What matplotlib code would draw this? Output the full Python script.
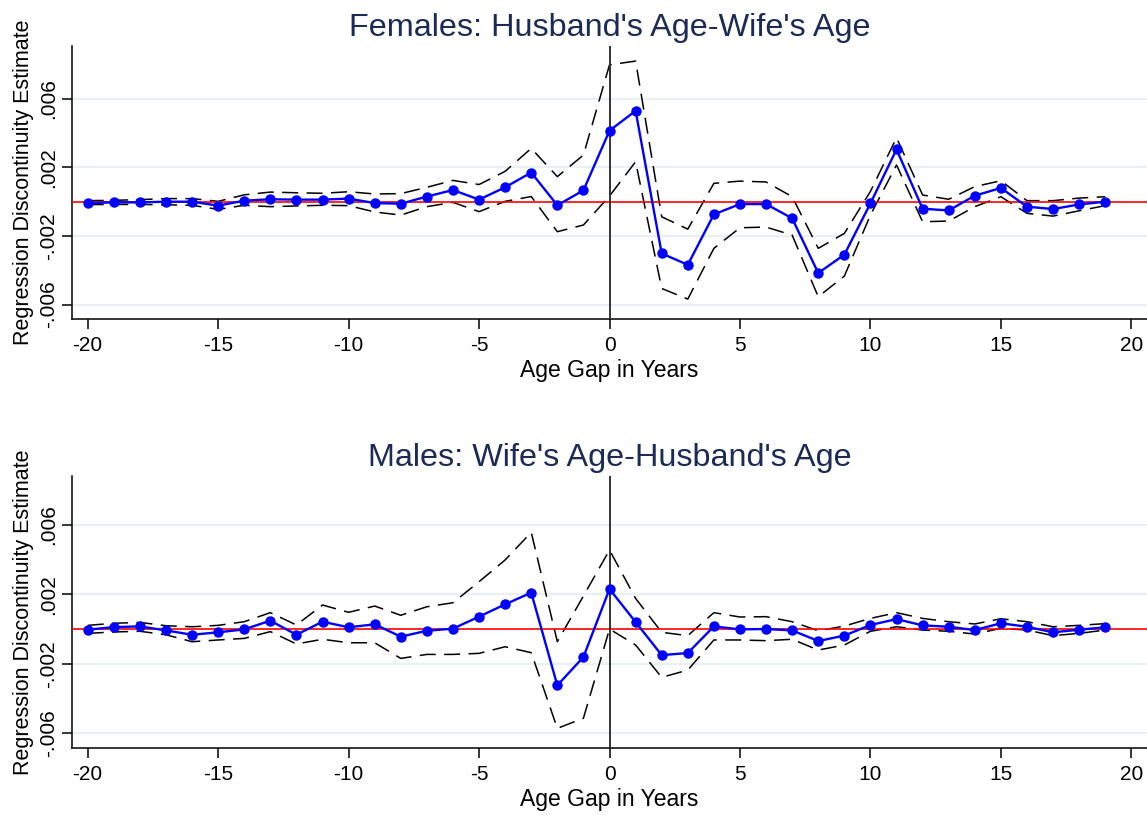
import numpy as np
import matplotlib
matplotlib.use("Agg")
import matplotlib.pyplot as plt

plt.rcParams['font.family'] = ['Liberation Sans', 'DejaVu Sans']

# Age gap (years) at which each discontinuity is estimated
age_gap = list(range(-20, 20))

# Females: husband's age minus wife's age
fem_est = [-0.00008, -0.00004, -0.00004, 0.0, 0.0, -0.00023, 0.00006, 0.00014, 0.00012, 0.00012,
           0.00018, -0.00008, -0.00012, 0.0003, 0.00068, 0.00012, 0.00084, 0.0017, -0.00021, 0.00066,
           0.00414, 0.0053, -0.00302, -0.00368, -0.00074, -0.00014, -0.00014, -0.00097, -0.00416, -0.00309,
           -0.0001, 0.00305, -0.00041, -0.00051, 0.00035, 0.0008, -0.00029, -0.00043, -0.00016, 0.0]
fem_hi = [0.00006, 0.00008, 0.00012, 0.00018, 0.00018, 0.00002, 0.0004, 0.00056, 0.00052, 0.00049,
          0.00058, 0.00045, 0.00047, 0.00084, 0.00124, 0.001, 0.00177, 0.00311, 0.00146, 0.00272,
          0.00798, 0.0082, -0.00088, -0.0016, 0.00107, 0.0012, 0.00115, 0.00029, -0.00272, -0.00185,
          0.0006, 0.00373, 0.00039, 0.00014, 0.00088, 0.00122, 0.00006, 0.00006, 0.00021, 0.00029]
fem_lo = [-0.00017, -0.00016, -0.00016, -0.00018, -0.00021, -0.00045, -0.00021, -0.00029, -0.00025, -0.00021,
          -0.00023, -0.0006, -0.00078, -0.00029, -0.00004, -0.00058, 0.00002, 0.0003, -0.00175, -0.00136,
          0.00033, 0.00233, -0.00506, -0.00568, -0.00272, -0.00152, -0.00148, -0.00195, -0.00554, -0.00434,
          -0.00078, 0.00214, -0.00117, -0.00113, -0.00029, 0.00029, -0.00068, -0.00084, -0.00053, -0.00023]

# Males: wife's age minus husband's age
mal_est = [-0.00004, 0.00011, 0.00015, -0.00008, -0.00033, -0.00019, -0.00002, 0.00048, -0.00033, 0.00042,
           0.0001, 0.00027, -0.00044, -0.0001, 0.00002, 0.00071, 0.00142, 0.00209, -0.00324, -0.00161,
           0.0023, 0.0004, -0.0015, -0.00138, 0.00015, -0.00002, 0.0, -0.00008, -0.00069, -0.00038,
           0.00023, 0.00057, 0.00021, 0.00013, -0.00006, 0.00033, 0.00013, -0.00019, -0.00004, 0.0001]
mal_hi = [0.00021, 0.00033, 0.00038, 0.00019, 0.00013, 0.00021, 0.00042, 0.00094, 0.00023, 0.00138,
          0.00096, 0.00132, 0.00079, 0.00128, 0.00151, 0.00272, 0.00397, 0.00556, -0.00073, 0.0019,
          0.00454, 0.00176, -0.00019, -0.00038, 0.00094, 0.00069, 0.00071, 0.00042, -0.0001, 0.00017,
          0.00061, 0.00094, 0.00061, 0.00042, 0.00029, 0.00059, 0.00042, 0.00013, 0.00021, 0.00031]
mal_lo = [-0.00025, -0.00017, -0.00013, -0.00033, -0.00073, -0.00063, -0.00054, -0.00015, -0.00086, -0.00059,
          -0.00079, -0.00079, -0.00169, -0.00146, -0.00146, -0.0014, -0.00102, -0.00136, -0.00571, -0.00513,
          0.0, -0.00092, -0.00278, -0.00236, -0.00063, -0.00063, -0.00067, -0.00059, -0.00121, -0.00092,
          -0.00013, 0.00013, -0.00006, -0.00013, -0.00029, 0.00004, -0.00006, -0.00038, -0.00025, -0.00006]

titles = ["Females: Husband's Age-Wife's Age", "Males: Wife's Age-Husband's Age"]
x_ticks = [-20, -15, -10, -5, 0, 5, 10, 15, 20]
y_ticks = [-0.006, -0.002, 0.002, 0.006]
y_ticklabels = ["-.006", "-.002", ".002", ".006"]

TITLE_COLOR = "#1c2b55"
GRID_COLOR = "#e9f0f3"

fig = plt.figure(figsize=(11.47, 8.15), dpi=100)
panels = [
    (fig.add_axes([0.0628, 0.6086, 0.9372, 0.335]), fem_est, fem_hi, fem_lo, (-0.00684, 0.00908)),
    (fig.add_axes([0.0628, 0.0818, 0.9372, 0.334]), mal_est, mal_hi, mal_lo, (-0.00686, 0.00879)),
]

for (ax, est, hi, lo, ylim), title in zip(panels, titles):
    for yt in y_ticks:
        ax.axhline(yt, color=GRID_COLOR, lw=1.6, zorder=0)
    ax.plot(age_gap, hi, color="black", lw=1.1, dashes=(10.5, 5.5), zorder=2)
    ax.plot(age_gap, lo, color="black", lw=1.1, dashes=(10.5, 5.5), zorder=2)
    ax.axhline(0, color="#ff0000", lw=1.2, zorder=3)
    ax.axvline(0, color="#333333", lw=1.4, zorder=3)
    ax.plot(age_gap, est, color="#0000ff", lw=1.7, marker="o", markersize=6.5, zorder=4)

    ax.set_xlim(-20.6, 20.6)
    ax.set_ylim(*ylim)
    ax.set_xticks(x_ticks)
    ax.set_xticklabels([str(v) for v in x_ticks])
    ax.set_yticks(y_ticks)
    ax.set_yticklabels(y_ticklabels, rotation=90, va="center")
    ax.tick_params(axis="both", length=7, width=1.1, labelsize=15, color="black")
    ax.tick_params(axis="x", pad=5)
    ax.tick_params(axis="y", pad=3)
    for s in ("top", "right"):
        ax.spines[s].set_visible(False)
    for s in ("left", "bottom"):
        ax.spines[s].set_linewidth(1.1)
    ax.set_xlabel("Age Gap in Years", fontsize=16.5, labelpad=3)
    ax.set_ylabel("Regression Discontinuity Estimate", fontsize=15.5, labelpad=4)
    ax.set_title(title, fontsize=23.3, color=TITLE_COLOR, pad=7)

fig.savefig("out.png", dpi=100)
